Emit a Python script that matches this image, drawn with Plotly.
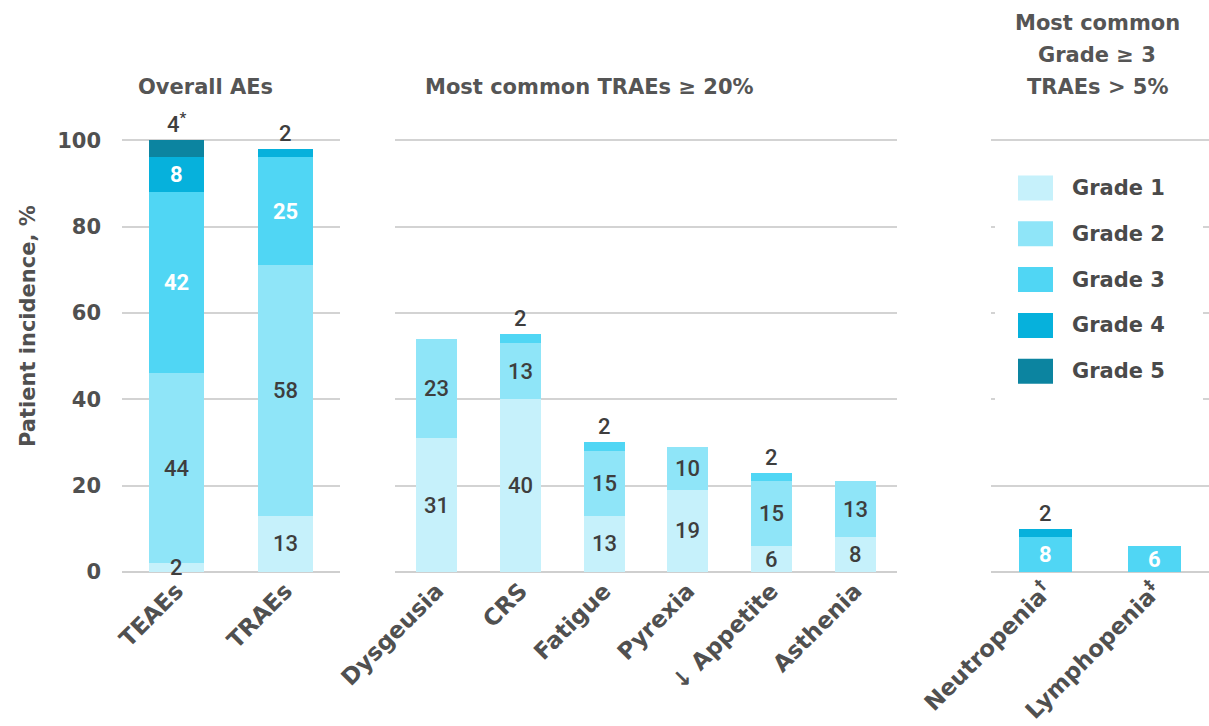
import plotly.graph_objects as go

# ---- data -------------------------------------------------------------
OVERALL_CATS = ["TEAEs", "TRAEs"]
COMMON_CATS = ["Dysgeusia", "CRS", "Fatigue", "Pyrexia", "↓ Appetite", "Asthenia"]
SEVERE_CATS = ["Neutropenia<sup>†</sup>", "Lymphopenia<sup>‡</sup>"]

# patient incidence (%) per grade
OVERALL_G1 = [2, 13]
OVERALL_G2 = [44, 58]
OVERALL_G3 = [42, 25]
OVERALL_G4 = [8, 2]
OVERALL_G5 = [4, 0]

COMMON_G1 = [31, 40, 13, 19, 6, 8]
COMMON_G2 = [23, 13, 15, 10, 15, 13]
COMMON_G3 = [0, 2, 2, 0, 2, 0]

SEVERE_G3 = [8, 6]
SEVERE_G4 = [2, 0]

GRADE_NAMES = ["Grade 1", "Grade 2", "Grade 3", "Grade 4", "Grade 5"]
GRADE_COLORS = ["#c6f1fb", "#8fe5f8", "#50d6f4", "#06b1dc", "#0c84a0"]

Y_TICKS = [0, 20, 40, 60, 80, 100]
PANEL_TITLES = [["Overall AEs"], ["Most common TRAEs ≥ 20%"],
                ["Most common", "Grade ≥ 3", "TRAEs > 5%"]]
FOOTNOTES = {("TEAEs", 5): "<sup>*</sup>"}

# ---- layout helpers ---------------------------------------------------
W, H = 1209, 726


def px_x(v):
    return v / W


def px_y(v):
    return 1 - v / H


TEXT_DARK = "#3e3e3e"
TITLE_GRAY = "#555555"
TITLE_FONT = "DejaVu Sans"
NUM_FONT = "Roboto"

Y_DOMAIN = [px_y(572), px_y(138)]

panels = [
    dict(cats=OVERALL_CATS,
         grades={1: OVERALL_G1, 2: OVERALL_G2, 3: OVERALL_G3, 4: OVERALL_G4, 5: OVERALL_G5},
         axis="", domain=[px_x(122), px_x(340)], width=0.51,
         title_x=205, title_y=[87]),
    dict(cats=COMMON_CATS,
         grades={1: COMMON_G1, 2: COMMON_G2, 3: COMMON_G3},
         axis="2", domain=[px_x(395), px_x(897)], width=0.49,
         title_x=589, title_y=[87]),
    dict(cats=SEVERE_CATS,
         grades={3: SEVERE_G3, 4: SEVERE_G4},
         axis="3", domain=[px_x(991), 1.0], width=0.49,
         title_x=1097, title_y=[23, 55, 87]),
]

fig = go.Figure()
annotations = []
layout_axes = {}

for p_idx, p in enumerate(panels):
    ax = p["axis"]
    xref = "x" + ax
    yref = "y" + ax
    for g, vals in p["grades"].items():
        fig.add_trace(go.Bar(
            x=p["cats"], y=vals, width=p["width"],
            marker=dict(color=GRADE_COLORS[g - 1], line=dict(width=0)),
            name=GRADE_NAMES[g - 1], showlegend=False,
            xaxis=xref, yaxis=yref, hoverinfo="skip",
        ))

    # segment labels
    for i, cat in enumerate(p["cats"]):
        segs = [(g, p["grades"][g][i]) for g in sorted(p["grades"]) if p["grades"][g][i] > 0]
        total = sum(v for _, v in segs)
        cum = 0
        for k, (g, v) in enumerate(segs):
            text = str(v) + FOOTNOTES.get((cat, g), "")
            is_top = k == len(segs) - 1
            if is_top and v <= 4:
                annotations.append(dict(
                    x=cat, y=total, xref=xref, yref=yref, text=text,
                    showarrow=False, yanchor="bottom", yshift=1,
                    font=dict(family=NUM_FONT, size=22, color=TEXT_DARK, weight=500)))
            else:
                white = g >= 3
                annotations.append(dict(
                    x=cat, y=cum + v / 2, xref=xref, yref=yref, text=text,
                    showarrow=False, yanchor="middle",
                    font=dict(family=NUM_FONT, size=22,
                              color="white" if white else TEXT_DARK,
                              weight="bold" if white else 500)))
            cum += v

    # panel title, one annotation per line
    for line, ty in zip(PANEL_TITLES[p_idx], p["title_y"]):
        annotations.append(dict(
            x=px_x(p["title_x"]), y=px_y(ty), xref="paper", yref="paper",
            text="<b>" + line + "</b>", showarrow=False,
            xanchor="center", yanchor="middle",
            font=dict(family=TITLE_FONT, size=21, color=TITLE_GRAY)))

    xkey = "xaxis" + ax
    ykey = "yaxis" + ax
    layout_axes[xkey] = dict(
        domain=p["domain"], anchor=yref, type="category", automargin=False,
        tickangle=-45, showgrid=False, showline=False, ticks="",
        tickfont=dict(family=TITLE_FONT, size=23, color="#505050", weight="bold"),
    )
    layout_axes[ykey] = dict(
        domain=Y_DOMAIN, anchor=xref, range=[0, 100.5], automargin=False,
        tickvals=Y_TICKS, showgrid=True, gridcolor="#d3d3d3", gridwidth=1.5,
        zeroline=True, zerolinecolor="#cfcfcf", zerolinewidth=2,
        showticklabels=(p_idx == 0), ticklabelstandoff=20,
        tickfont=dict(family=TITLE_FONT, size=21, color="#505050", weight="bold"),
        fixedrange=True,
    )

# y-axis title
annotations.append(dict(
    x=px_x(28), y=px_y(326), xref="paper", yref="paper",
    text="<b>Patient incidence, %</b>", showarrow=False, textangle=-90,
    xanchor="center", yanchor="middle",
    font=dict(family=TITLE_FONT, size=21, color="#505050")))

# grade key
shapes = [dict(type="rect", xref="paper", yref="paper", layer="above",
               x0=px_x(995), x1=px_x(1203), y0=px_y(404), y1=px_y(150),
               fillcolor="white", line=dict(width=0))]
for i, (name, color) in enumerate(zip(GRADE_NAMES, GRADE_COLORS)):
    cy = 188 + i * 45.8
    shapes.append(dict(type="rect", xref="paper", yref="paper", layer="above",
                       x0=px_x(1018), x1=px_x(1053),
                       y0=px_y(cy + 12.5), y1=px_y(cy - 12.5),
                       fillcolor=color, line=dict(width=0)))
    annotations.append(dict(
        x=px_x(1070), y=px_y(cy), xref="paper", yref="paper",
        text="<b>" + name + "</b>", showarrow=False,
        xanchor="left", yanchor="middle",
        font=dict(family=TITLE_FONT, size=21, color="#4a4a4a")))

fig.update_layout(
    width=W, height=H,
    margin=dict(l=0, r=0, t=0, b=0),
    paper_bgcolor="white", plot_bgcolor="white",
    barmode="stack", showlegend=False,
    annotations=annotations, shapes=shapes,
    **layout_axes,
)

fig.write_html("out.html")
